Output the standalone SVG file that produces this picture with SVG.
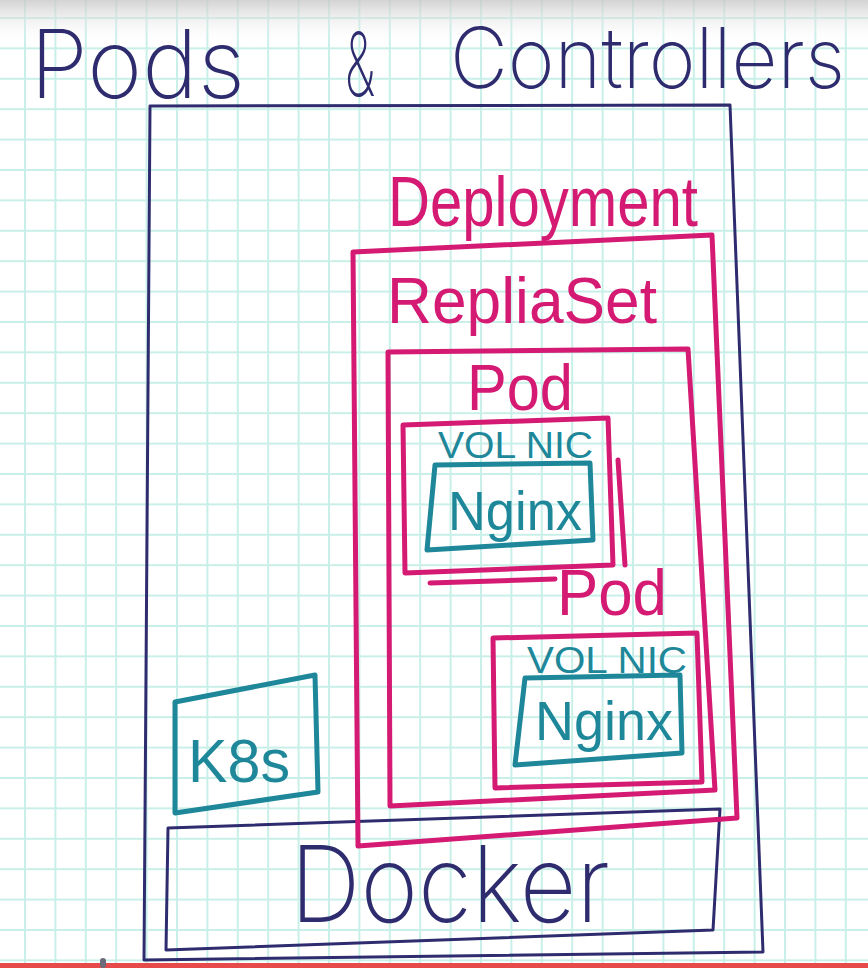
<svg xmlns="http://www.w3.org/2000/svg" width="868" height="968" viewBox="0 0 868 968">
<defs>
<pattern id="grid" x="24" y="17" width="30.4" height="30.4" patternUnits="userSpaceOnUse">
<path d="M1 0 V30.4 M0 1 H30.4" stroke="#c8efe8" stroke-width="2" fill="none"/>
</pattern>
<linearGradient id="topshade" x1="0" y1="0" x2="0" y2="1">
<stop offset="0" stop-color="#c8c8c8" stop-opacity="0.8"/>
<stop offset="1" stop-color="#ffffff" stop-opacity="0"/>
</linearGradient>
</defs>
<style>
.navy{fill:none;stroke:#2e2c6e;stroke-width:3;stroke-linejoin:round;stroke-linecap:round}
.mag{fill:none;stroke:#d41a72;stroke-width:5;stroke-linejoin:round;stroke-linecap:round}
.teal{fill:none;stroke:#1e8799;stroke-width:5;stroke-linejoin:round;stroke-linecap:round}
.tn{fill:#2e2c6e;font-family:Inter,"Liberation Sans",sans-serif;font-weight:200}
.tm{fill:#d41a72;font-family:"Liberation Sans",Arial,sans-serif}
.tt{fill:#1e8799;font-family:"Liberation Sans",Arial,sans-serif}
</style>
<rect width="868" height="968" fill="#ffffff"/>
<rect width="868" height="968" fill="url(#grid)"/>
<rect width="868" height="45" fill="url(#topshade)"/>

<g id="title">
<text class="tn" x="30" y="98" font-size="95" textLength="215" lengthAdjust="spacingAndGlyphs">Pods</text>
<text class="tn" x="345" y="96" font-size="88" textLength="30" lengthAdjust="spacingAndGlyphs">&amp;</text>
<text class="tn" x="450" y="88" font-size="84" textLength="395" lengthAdjust="spacingAndGlyphs">Controllers</text>
</g>

<g id="host">
<polygon class="navy" points="150,106 730,105 763,952 144,960"/>
</g>

<g id="docker">
<polygon class="navy" points="168,828 720,809 713,930 166,950"/>
<text class="tn" x="290" y="922" font-size="106" textLength="320" lengthAdjust="spacingAndGlyphs">Docker</text>
</g>

<g id="k8s">
<polygon class="teal" points="175,702 315,675 318,792 175,813"/>
<text class="tt" x="188" y="782" font-size="62" textLength="102" lengthAdjust="spacingAndGlyphs">K8s</text>
</g>

<g id="deployment">
<polygon class="mag" points="353,252 712,235 737,818 358,846"/>
<text class="tm" x="388" y="226" font-size="70" textLength="310" lengthAdjust="spacingAndGlyphs">Deployment</text>
</g>

<g id="replicaset">
<polygon class="mag" points="388,352 688,349 715,790 390,806"/>
<text class="tm" x="387" y="323" font-size="64" textLength="270" lengthAdjust="spacingAndGlyphs">RepliaSet</text>
</g>

<g id="pod1">
<polygon class="mag" points="403,425 608,418 613,565 405,573"/>
<path class="mag" d="M618,460 L625,565 M430,583 L555,579"/>
<text class="tm" x="467" y="410" font-size="64" textLength="106" lengthAdjust="spacingAndGlyphs">Pod</text>
<text class="tt" x="438" y="458" font-size="36" textLength="155" lengthAdjust="spacingAndGlyphs">VOL NIC</text>
</g>

<g id="nginx1">
<polygon class="teal" points="435,465 590,463 593,540 427,550"/>
<text class="tt" x="448" y="530" font-size="56" textLength="134" lengthAdjust="spacingAndGlyphs">Nginx</text>
</g>

<g id="pod2">
<polygon class="mag" points="493,638 697,633 702,782 495,788"/>
<text class="tm" x="557" y="615" font-size="64" textLength="110" lengthAdjust="spacingAndGlyphs">Pod</text>
<text class="tt" x="527" y="673" font-size="36" textLength="160" lengthAdjust="spacingAndGlyphs">VOL NIC</text>
</g>

<g id="nginx2">
<polygon class="teal" points="525,678 680,675 682,753 515,765"/>
<text class="tt" x="535" y="740" font-size="56" textLength="138" lengthAdjust="spacingAndGlyphs">Nginx</text>
</g>

<g id="connectors"></g>

<g id="progress">
<rect x="0" y="963" width="868" height="5" fill="#e64a4a"/>
<rect x="100" y="958" width="6" height="10" rx="3" fill="#6b6b7a"/>
</g>
</svg>
